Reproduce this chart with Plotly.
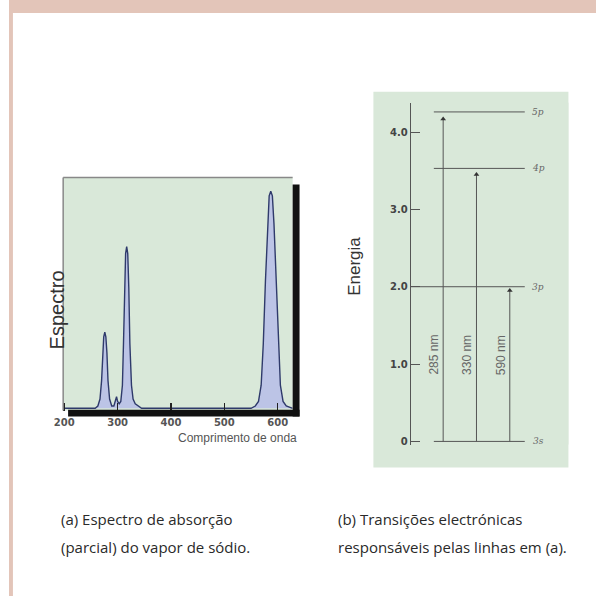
import plotly.graph_objects as go

W, H = 596, 598

# ---------------- data ----------------
# (a) absorption spectrum
wavelength_nm = [198, 250, 258, 263, 267, 270, 272, 274, 276, 278, 280, 282, 285, 289,
                 293, 296, 298, 300, 303, 306, 309, 311, 313, 315, 317, 319, 321, 323,
                 326, 329, 333, 338, 345, 400, 500, 550, 558, 564, 569, 573, 577, 581,
                 584, 587, 590, 593, 597, 601, 605, 610, 616, 628]
absorption = [0, 0, 0, 1, 4, 12, 24, 31, 33, 31, 24, 12, 4, 1,
              1, 3, 5, 3, 2, 3, 10, 28, 52, 67, 70, 67, 52, 28,
              10, 4, 2, 1, 0, 0, 0, 0, 1, 3, 10, 28, 55, 80,
              92, 94, 92, 80, 55, 28, 10, 3, 1, 0]
wavelength_ticks = [200, 300, 400, 500, 600]

# (b) energy levels and transitions
level_names = ["3s", "3p", "4p", "5p"]
level_energies = [0.0, 2.0, 3.53, 4.26]
energy_ticks = [0, 1, 2, 3, 4]
energy_tick_labels = ["0", "1.0", "2.0", "3.0", "4.0"]
transition_labels = ["285 nm", "330 nm", "590 nm"]
transition_tip = [4.17, 3.45, 1.95]

captions_a = ["(a) Espectro de absorção", "(parcial) do vapor de sódio."]
captions_b = ["(b) Transições electrónicas", "responsáveis pelas linhas em (a)."]

# ---------------- style ----------------
GREEN = "#d9e8d9"
PINK = "#e3c5b9"

def px(x):
    return x / W

def py(y):
    return 1 - y / H

fig = go.Figure()

# spectrum
fig.add_trace(go.Scatter(
    x=wavelength_nm, y=absorption, mode="lines", fill="tozeroy",
    line=dict(color="#2f3a6b", width=1.4), fillcolor="#bcc4e6",
    xaxis="x", yaxis="y", hoverinfo="skip", showlegend=False))

# energy diagram: slots for transitions
slots = [1, 2, 3]
line_end = 3.45
for name, e in zip(level_names, level_energies):
    start = 0.03 if name == "3p" else 0.72
    fig.add_trace(go.Scatter(
        x=[start, line_end], y=[e, e], mode="lines",
        line=dict(color="#555555", width=1), xaxis="x2", yaxis="y2",
        hoverinfo="skip", showlegend=False))
for s, tip in zip(slots, transition_tip):
    fig.add_trace(go.Scatter(
        x=[s, s], y=[0, tip], mode="lines",
        line=dict(color="#555555", width=1), xaxis="x2", yaxis="y2",
        hoverinfo="skip", showlegend=False))
fig.add_trace(go.Scatter(
    x=slots, y=transition_tip, mode="markers",
    marker=dict(symbol="triangle-up", size=5, color="#333333"),
    xaxis="x2", yaxis="y2", hoverinfo="skip", showlegend=False))

annotations = []
for s, lab in zip(slots, transition_labels):
    annotations.append(dict(
        x=s - 0.28, y=1.12, xref="x2", yref="y2", text=lab, textangle=-90,
        showarrow=False, font=dict(family="Liberation Sans", size=12, color="#666666")))
for name, e in zip(level_names, level_energies):
    annotations.append(dict(
        x=3.85, y=e, xref="x2", yref="y2", text="<i>" + name + "</i>",
        showarrow=False, font=dict(family="DejaVu Serif", size=9, color="#666666")))

# axis titles
annotations.append(dict(x=px(36), y=py(311), xref="paper", yref="paper", text="Espectro",
                        textangle=-90, showarrow=False,
                        font=dict(family="Liberation Sans", size=20, color="#333333")))
annotations.append(dict(x=px(232), y=py(448), xref="paper", yref="paper",
                        text="Comprimento de onda", showarrow=False,
                        font=dict(family="Liberation Sans", size=12, color="#555555")))
annotations.append(dict(x=px(350), y=py(267), xref="paper", yref="paper", text="Energia",
                        textangle=-90, showarrow=False,
                        font=dict(family="Liberation Sans", size=17, color="#333333")))

# captions
for i, t in enumerate(captions_a):
    annotations.append(dict(x=px(51), y=py(533 + 28 * i), xref="paper", yref="paper",
                            text=t, xanchor="left", showarrow=False,
                            font=dict(family="Open Sans", size=15, color="#2a2a2a")))
for i, t in enumerate(captions_b):
    annotations.append(dict(x=px(332), y=py(533 + 28 * i), xref="paper", yref="paper",
                            text=t, xanchor="left", showarrow=False,
                            font=dict(family="Open Sans", size=15, color="#2a2a2a")))

shapes = [
    # page border
    dict(type="rect", xref="paper", yref="paper", x0=0, x1=1, y0=py(13), y1=1,
         fillcolor=PINK, line=dict(width=0), layer="below"),
    dict(type="rect", xref="paper", yref="paper", x0=0, x1=px(4), y0=0, y1=1,
         fillcolor=PINK, line=dict(width=0), layer="below"),
    # right panel background
    dict(type="rect", xref="paper", yref="paper", x0=px(370), x1=px(568), y0=py(469), y1=py(92),
         fillcolor=GREEN, line=dict(width=0), layer="below"),
    # left chart frame: thin grey top / left
    dict(type="line", xref="x domain", yref="y domain", x0=0, x1=0, y0=0, y1=1,
         line=dict(color="#888888", width=1.5)),
    dict(type="line", xref="x domain", yref="y domain", x0=0, x1=1, y0=1, y1=1,
         line=dict(color="#888888", width=1.5)),
    # thick black shadow right / bottom
    dict(type="rect", xref="x domain", yref="y domain", x0=1, x1=1 + 7 / 233,
         y0=-6 / 234, y1=1 - 7 / 234, fillcolor="#111111", line=dict(width=0)),
    dict(type="rect", xref="x domain", yref="y domain", x0=5 / 233, x1=1 + 7 / 233,
         y0=-6 / 234, y1=1 / 234, fillcolor="#111111", line=dict(width=0)),
]

fig.update_layout(
    width=W, height=H, autosize=False,
    margin=dict(l=0, r=0, t=0, b=0),
    paper_bgcolor="white", plot_bgcolor=GREEN,
    showlegend=False,
    xaxis=dict(domain=[px(55), px(288)], range=[198, 628], tickvals=wavelength_ticks,
               ticks="inside", ticklen=8, tickwidth=1.5, tickcolor="#222222",
               showgrid=False, zeroline=False, showline=False, ticklabelstandoff=4,
               tickfont=dict(family="DejaVu Sans", size=10, color="#555555", weight="bold"),
               fixedrange=True),
    yaxis=dict(domain=[py(412), py(178)], range=[-1, 100], visible=False,
               showgrid=False, zeroline=False, fixedrange=True),
    xaxis2=dict(domain=[px(408), px(568)], range=[0.03, 4.76], visible=False,
                anchor="y2", showgrid=False, zeroline=False, fixedrange=True),
    yaxis2=dict(domain=[py(446), py(103)], range=[-0.04, 4.38], anchor="x2",
                tickvals=energy_ticks, ticktext=energy_tick_labels,
                ticks="inside", ticklen=9, tickcolor="#555555",
                showline=True, linecolor="#555555", linewidth=1,
                showgrid=False, zeroline=False,
                tickfont=dict(family="DejaVu Sans", size=10, color="#444444", weight="bold"),
                fixedrange=True),
    shapes=shapes,
    annotations=annotations,
)

fig.write_html(
    "out.html",
    config={"displayModeBar": False, "staticPlot": True},
    post_script="document.body.style.margin='0';document.body.style.padding='0';",
)
